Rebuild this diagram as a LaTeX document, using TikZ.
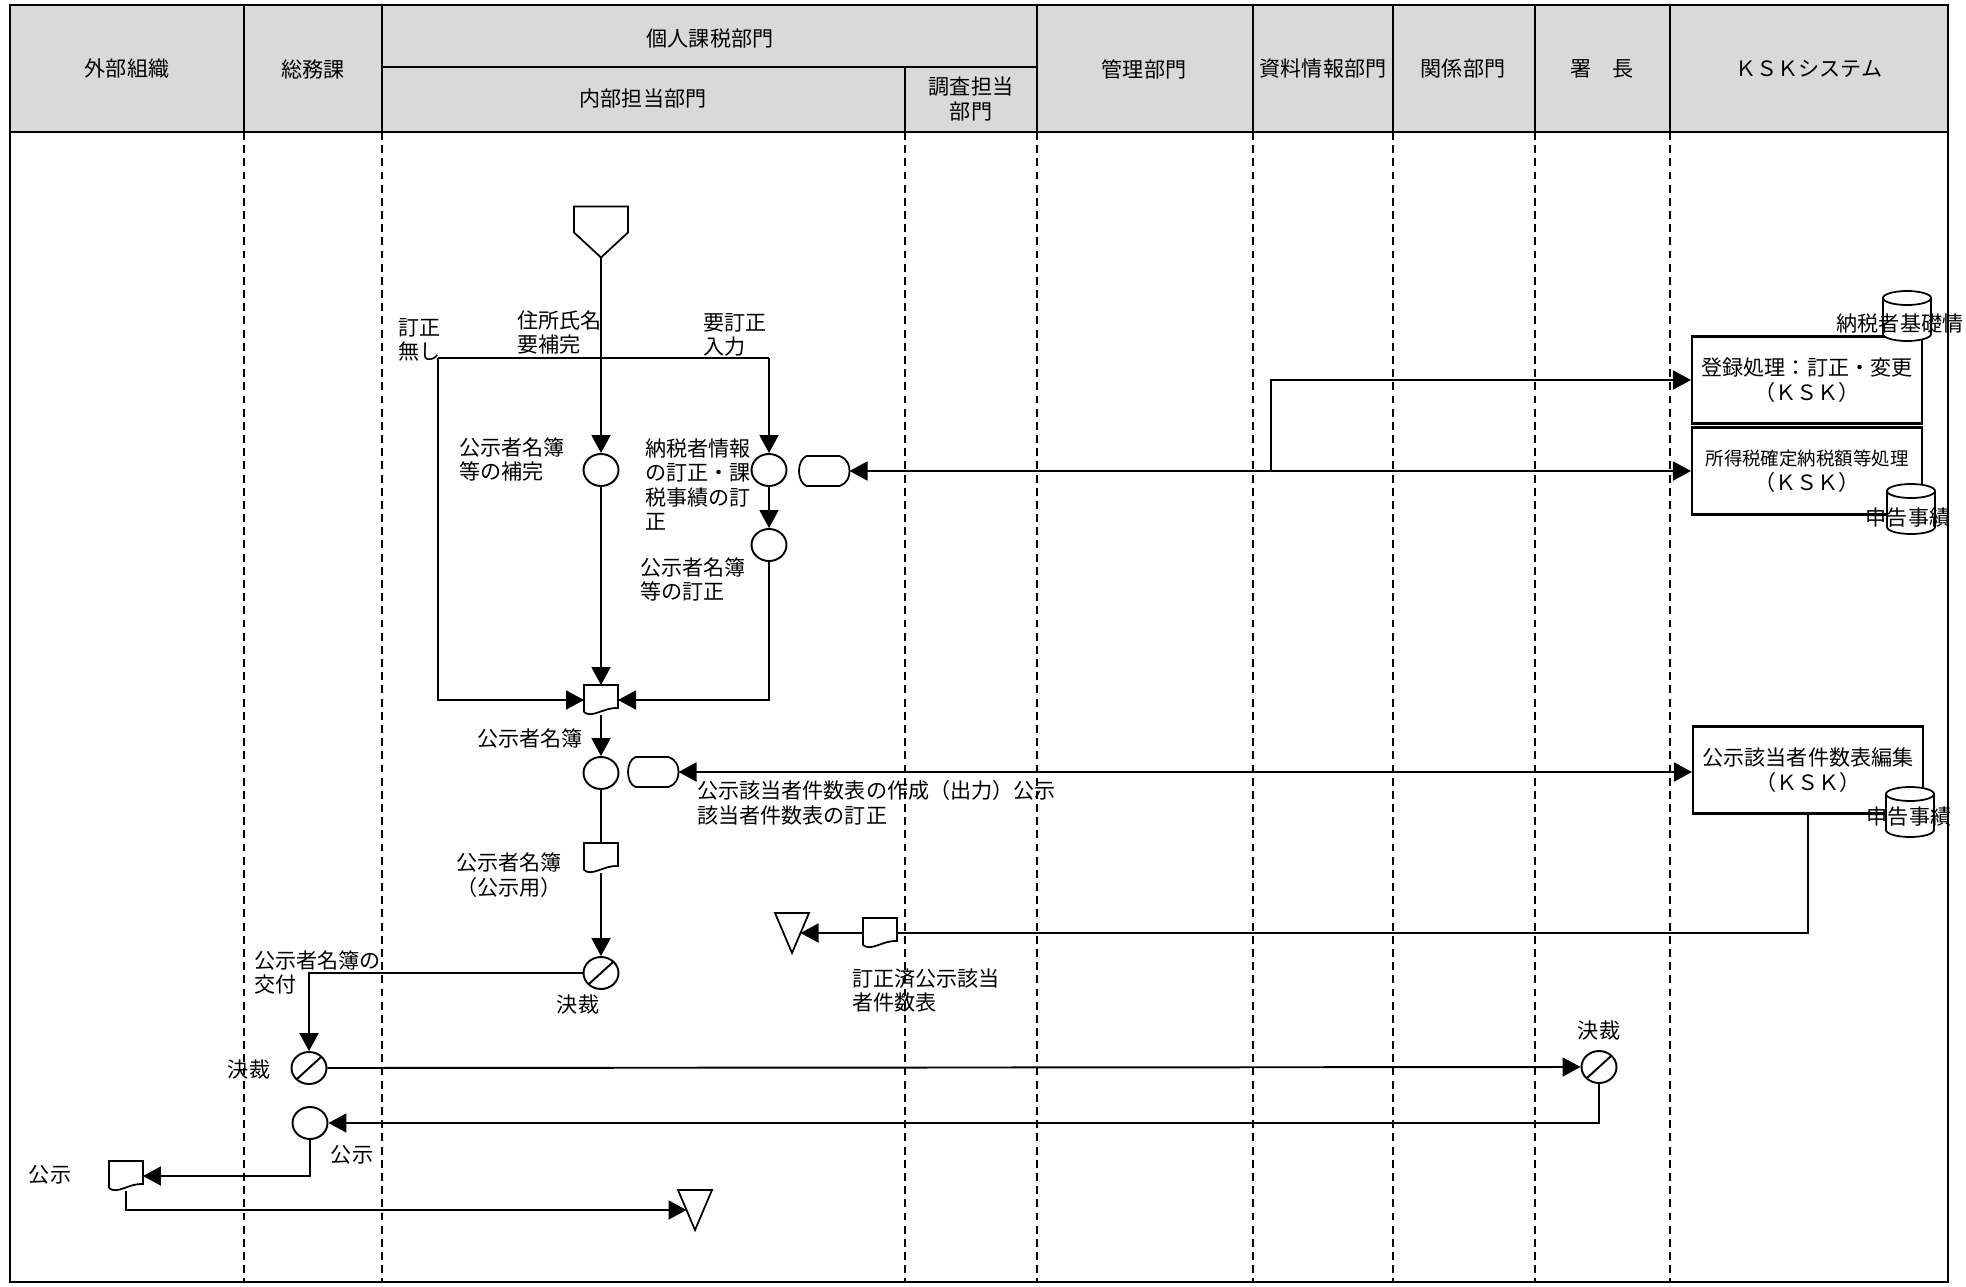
\documentclass[tikz,border=0pt]{standalone}
\usepackage{fontspec}
\setmainfont{Noto Sans CJK JP}
\usepackage{tikz}
\usetikzlibrary{positioning,shapes.geometric,arrows.meta,calc}
\definecolor{hdrgray}{RGB}{217,217,217}

% outline symbols drawn round an empty named node
\newcommand{\docsym}[1]{\draw[shp] ($(#1.south west)+(0,3)$) -- (#1.north west) -- (#1.north east) -- ($(#1.south east)+(0,7)$)
  .. controls ($(#1.south east)+(-14,8)$) and ($(#1.south west)+(8,-4)$) .. ($(#1.south west)+(0,3)$);}
\newcommand{\dispsym}[1]{\draw[shp] ($(#1.north west)+(10,0)$) -- ($(#1.north east)+(-10,0)$)
  .. controls ($(#1.north east)+(-2,-3)$) and ($(#1.east)+(0,6)$) .. (#1.east)
  .. controls ($(#1.east)+(0,-6)$) and ($(#1.south east)+(-2,3)$) .. ($(#1.south east)+(-10,0)$)
  -- ($(#1.south west)+(10,0)$)
  .. controls ($(#1.south west)+(0,4)$) and ($(#1.north west)+(0,-4)$) .. ($(#1.north west)+(10,0)$) -- cycle;}
\newcommand{\termsym}[1]{\draw[shp] (#1.north west) -- (#1.north east) -- (#1.south) -- cycle;}
\newcommand{\startsym}[1]{\draw[shp] (#1.north west) -- (#1.north east) -- ($(#1.north east)+(0,-26)$) -- (#1.south) -- ($(#1.north west)+(0,-26)$) -- cycle;}
\newcommand{\cylsym}[1]{%
  \filldraw[shp,fill=white] ($(#1.north west)+(0,-7)$) -- ($(#1.south west)+(0,7)$)
    arc[start angle=180,end angle=360,x radius=0.48cm,y radius=0.14cm]
    -- ($(#1.north east)+(0,-7)$)
    arc[start angle=0,end angle=180,x radius=0.48cm,y radius=0.14cm] -- cycle;
  \draw[shp] ($(#1.north west)+(0,-7)$) arc[start angle=180,end angle=360,x radius=0.48cm,y radius=0.14cm];}

\begin{document}
\begin{tikzpicture}[x=0.02cm,y=0.02cm,
  every node/.style={font=\fontsize{12pt}{14pt}\selectfont},
  frame/.style={line width=1.2pt},
  lane/.style={line width=0.8pt, dash pattern=on 4.5pt off 3pt},
  flow/.style={line width=1.1pt},
  arr/.style={flow, -{Triangle[length=0.36cm,width=0.38cm]}},
  arrs/.style={flow, {Triangle[length=0.36cm,width=0.38cm]}-{Triangle[length=0.36cm,width=0.38cm]}},
  shp/.style={line width=1pt},
  proc/.style={ellipse, draw, line width=1.1pt, minimum width=0.7cm, minimum height=0.64cm, inner sep=0pt},
  deci/.style={proc, path picture={\draw[line width=1.1pt] (path picture bounding box.south west) -- (path picture bounding box.north east);}},
  sym/.style={inner sep=0pt, outer sep=0pt},
  docn/.style={sym, minimum width=0.68cm, minimum height=0.6cm},
  dispn/.style={sym, minimum width=1.06cm, minimum height=0.6cm},
  endn/.style={sym, minimum width=0.68cm, minimum height=0.8cm},
  startn/.style={sym, minimum width=1.08cm, minimum height=1.02cm},
  cyln/.style={sym, minimum width=0.96cm, minimum height=1.0cm},
  ksk/.style={draw, line width=1.2pt, minimum width=4.6cm, minimum height=1.74cm, align=center, inner sep=0pt, fill=white},
  lbl/.style={inner sep=0pt, align=left, anchor=north west},
  hdr/.style={inner sep=0pt, align=center}
]
  \useasboundingbox (0,0) rectangle (1966,-1287);
  \fill[white] (0,0) rectangle (1966,-1287);

  % lanes
  \fill[hdrgray] (10,-5) rectangle (1948,-132);
  \foreach \x in {244,382,905,1037,1253,1393,1535,1670}
    \draw[lane] (\x,-132) -- (\x,-1282);
  \foreach \x in {244,382,1037,1253,1393,1535,1670}
    \draw[frame] (\x,-5) -- (\x,-132);
  \draw[frame] (382,-67) -- (1037,-67);
  \draw[frame] (905,-67) -- (905,-132);
  \draw[frame] (10,-132) -- (1948,-132);
  \draw[frame] (10,-5) rectangle (1948,-1282);

  \node[hdr] (hGaibu)   at (127,-69)  {外部組織};
  \node[hdr] (hSomu)    at (313,-69)  {総務課};
  \node[hdr] (hKojin)   at (710,-38)  {個人課税部門};
  \node[hdr] (hNaibu)   at (643,-99)  {内部担当部門};
  \node[hdr] (hChosa)   at (971,-99)  {調査担当\\部門};
  \node[hdr] (hKanri)   at (1144,-69) {管理部門};
  \node[hdr] (hShiryo)  at (1323,-69) {資料情報部門};
  \node[hdr] (hKankei)  at (1463,-69) {関係部門};
  \node[hdr] (hShocho)  at (1602,-69) {署　長};
  \node[hdr] (hKSK)     at (1809,-69) {ＫＳＫシステム};

  % symbols
  \node[startn] (start) at (601,-232) {};
  \startsym{start}
  \node[proc] (cA) at (601,-470) {};
  \node[proc] (cB) at (769,-470) {};
  \node[proc] (cC) at (769,-545) {};
  \node[dispn] (dispB) at (823,-471) {};
  \dispsym{dispB}
  \node[docn] (dM) at (601,-700) {};
  \docsym{dM}
  \node[proc] (cD) at (601,-773) {};
  \node[dispn] (dispD) at (652,-772) {};
  \dispsym{dispD}
  \node[docn] (dP) at (601,-858) {};
  \docsym{dP}
  \node[deci] (cE) at (601,-973) {};
  \node[endn] (tK) at (792,-933) {};
  \termsym{tK}
  \node[docn] (dK) at (880,-933) {};
  \docsym{dK}
  \node[deci] (cF) at (309,-1068) {};
  \node[deci] (cG) at (1599,-1067) {};
  \node[proc] (cH) at (310,-1123) {};
  \node[docn] (dN) at (126,-1176) {};
  \docsym{dN}
  \node[endn] (tN) at (695,-1210) {};
  \termsym{tN}

  \node[ksk] (kA) at (1807,-380) {登録処理：訂正・変更\\（ＫＳＫ）};
  \node[ksk] (kB) at (1807,-471) {{\fontsize{10.5pt}{14pt}\selectfont 所得税確定納税額等処理}\\（ＫＳＫ）};
  \node[ksk] (kC) at (1808,-770) {公示該当者件数表編集\\（ＫＳＫ）};
  \node[cyln] (cy1) at (1907,-316) {};
  \cylsym{cy1}
  \node[cyln] (cy2) at (1911,-509) {};
  \cylsym{cy2}
  \node[cyln] (cy3) at (1910,-812) {};
  \cylsym{cy3}
  \node[hdr] (txKiso) at (1900,-323) {納税者基礎情};
  \node[hdr] (txShin1) at (1908,-518) {申告事績};
  \node[hdr] (txShin2) at (1909,-817) {申告事績};

  % connectors
  \coordinate (brL) at (438,-358);
  \coordinate (brR) at (769,-358);
  \coordinate (brK) at (1271,-471);
  \draw[arr] (start.south) -- (cA.north);
  \draw[flow] (brL) -- (brR);
  \draw[arr] (brR) -- (cB.north);
  \draw[arr] (brL) |- (dM.west);
  \draw[arr] (cA.south) -- (dM.north);
  \draw[arr] (cB.south) -- (cC.north);
  \draw[arr] (cC.south) |- (dM.east);
  \draw[arrs] (dispB.east) -- (kB.west);
  \draw[arr] (brK) |- (kA.west);
  \draw[arr] (dM.south) -- (cD.north);
  \draw[arrs] (dispD.east) -- (dispD.east -| kC.west);
  \draw[flow] (cD.south) -- (dP.north);
  \draw[arr] (dP.south) -- (cE.north);
  \draw[flow] (kC.south) |- (dK.east);
  \draw[arr] (dK.west) -- ($(tK.north east)!0.5!(tK.south)$);
  \draw[arr] (cE.west) -| (cF.north);
  \draw[arr] (cF.east) -- (cG.west);
  \draw[arr] (cG.south) |- (cH.east);
  \draw[arr] (cH.south) |- (dN.east);
  \draw[arr] (dN.south) |- ($(tN.north west)!0.5!(tN.south)$);

  % labels
  \node[lbl] (lbNashi)   at (398,-318) {訂正\\無し};
  \node[lbl] (lbHokan)   at (517,-310) {住所氏名\\要補完};
  \node[lbl] (lbYoTei)   at (703,-313) {要訂正\\入力};
  \node[lbl] (lbA)       at (459,-437) {公示者名簿\\等の補完};
  \node[lbl] (lbB)       at (645,-438) {納税者情報\\の訂正・課\\税事績の訂\\正};
  \node[lbl] (lbC)       at (640,-557) {公示者名簿\\等の訂正};
  \node[lbl] (lbM)       at (477,-728) {公示者名簿};
  \node[lbl] (lbD)       at (697,-780) {公示該当者件数表の作成（出力）公示\\該当者件数表の訂正};
  \node[hdr] (lbP)       at (509,-875) {公示者名簿\\（公示用）};
  \node[hdr] (lbE)       at (578,-1004) {決裁};
  \node[lbl] (lbK)       at (852,-968) {訂正済公示該当\\者件数表};
  \node[lbl] (lbKofu)    at (254,-950) {公示者名簿の\\交付};
  \node[hdr] (lbF)       at (249,-1069) {決裁};
  \node[hdr] (lbG)       at (1599,-1030) {決裁};
  \node[hdr] (lbH)       at (352,-1155) {公示};
  \node[hdr] (lbN)       at (50,-1175) {公示};
\end{tikzpicture}
\end{document}
